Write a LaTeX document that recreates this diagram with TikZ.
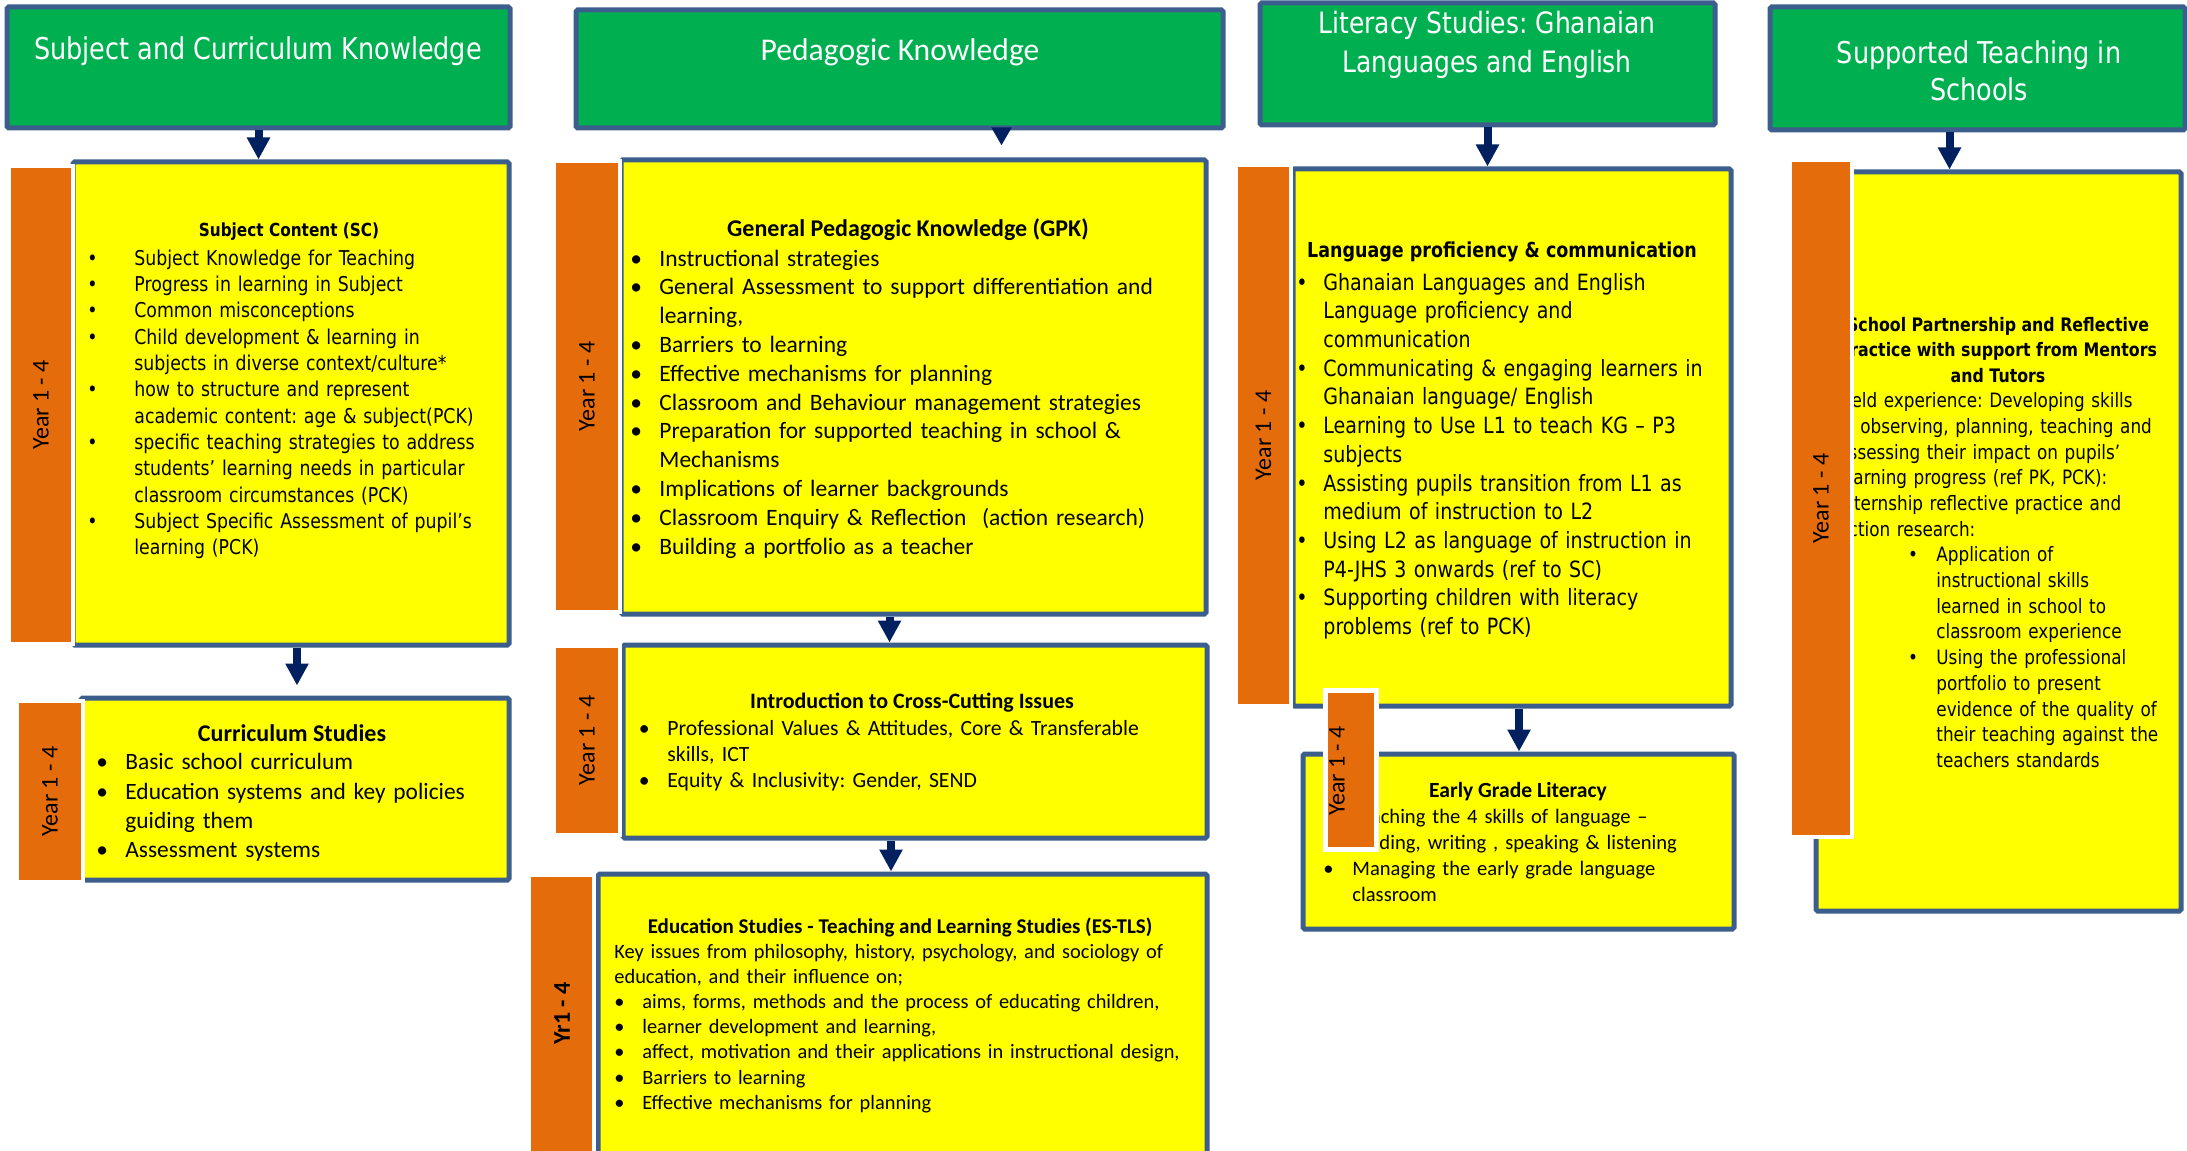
\documentclass[tikz,border=0pt]{standalone}
\usepackage{fontspec}
\setmainfont{Carlito}
\newfontfamily\tahfont[FakeStretch=0.85]{DejaVu Sans}
\usepackage{xcolor}
\usepackage{tikz}
\usetikzlibrary{positioning,fit,calc,arrows.meta}

\definecolor{hdgreen}{HTML}{00B050}
\definecolor{boxyellow}{HTML}{FFFF00}
\definecolor{yrorange}{HTML}{E46C0A}
\definecolor{edgeblue}{HTML}{3B5E8C}
\definecolor{arrownavy}{HTML}{002060}

\newlength\bulind
\newlength\txtind
\newcommand\bl{\par\noindent\hbox to\txtind{\hskip\bulind\relax\textbullet\hss}}
\newcommand\cl{\par\noindent\hskip\txtind\relax}
\newcommand\pl{\par\noindent}

\begin{document}
\frenchspacing
\begin{tikzpicture}[x=0.5pt, y=-0.5pt,
    header/.style={draw=edgeblue, line width=2.5pt, fill=hdgreen, inner sep=0pt, rounded corners=0.8pt},
    hdtext/.style={text=white, align=center, inner sep=0pt},
    subbox/.style={draw=edgeblue, line width=2.5pt, fill=boxyellow, inner sep=0pt, rounded corners=0.8pt},
    yearbar/.style={draw=white, line width=2pt, fill=yrorange, inner sep=0pt},
    yeartext/.style={rotate=90, inner sep=0pt, font=\fontsize{12}{14}\selectfont},
    boxtitle/.style={inner sep=0pt, align=center},
    bodytext/.style={anchor=north west, inner sep=0pt, align=left},
    navyarrow/.style={draw=arrownavy, line width=4pt, -{Triangle[width=11pt,length=11pt]}},
    navyhead/.style={draw=arrownavy, line width=4pt, -{Triangle[width=9.5pt,length=9pt]}}
]
    \useasboundingbox (0,0) rectangle (2187,1150);

    \node[header, fit={(7,7) (510,128)}] (hd1) {};
    \node[header, fit={(576,10) (1223,128)}] (hd2) {};
    \node[header, fit={(1260,3) (1715,125)}] (hd3) {};
    \node[header, fit={(1770,7) (2185,130)}] (hd4) {};

    \node[hdtext, font=\tahfont\fontsize{15}{19}\selectfont] (hd1txt) at (258,51) {Subject and Curriculum Knowledge};
    \node[hdtext, font=\fontsize{15.8}{19}\selectfont] (hd2txt) at (900,52) {Pedagogic Knowledge};
    \node[hdtext, font=\tahfont\fontsize{14.7}{19.5}\selectfont] (hd3txt) at (1487,44.5) {Literacy Studies: Ghanaian\\Languages and English};
    \node[hdtext, font=\tahfont\fontsize{15}{18.5}\selectfont] (hd4txt) at (1979,70.5) {Supported Teaching in\\Schools};

    \node[subbox, fit={(73,162) (509,645)}] (sc) {};
    \node[subbox, fit={(81,698) (509,880)}] (cs) {};
    \node[subbox, fit={(621,160) (1206,614)}] (gpk) {};
    \node[subbox, fit={(623,645) (1207,838)}] (cci) {};
    \node[subbox, fit={(598,874) (1207,1175)}] (es) {};
    \node[subbox, fit={(1293,169) (1731,706)}] (lpc) {};
    \node[subbox, fit={(1303,754) (1734,929)}] (egl) {};
    \node[subbox, fit={(1816,172) (2181,911)}] (stp) {};

    \node[boxtitle, font=\tahfont\bfseries\fontsize{9}{11}\selectfont] (sctitle) at (289,232) {Subject Content (SC)};
    \node[bodytext, text width=212pt, font=\tahfont\fontsize{10.2}{13.15}\selectfont] (sclist) at (87,238.6) {%
        \setlength\bulind{0pt}\setlength\txtind{23.5pt}%
        \bl Subject Knowledge for Teaching
        \bl Progress in learning in Subject
        \bl Common misconceptions
        \bl Child development \& learning in
        \cl subjects in diverse context/culture*
        \bl how to structure and represent
        \cl academic content: age \& subject(PCK)
        \bl specific teaching strategies to address
        \cl students’ learning needs in particular
        \cl classroom circumstances (PCK)
        \bl Subject Specific Assessment of pupil’s
        \cl learning (PCK)};

    \node[boxtitle, font=\bfseries\fontsize{12}{14.5}\selectfont] (cstitle) at (292,733) {Curriculum Studies};
    \node[bodytext, text width=200pt, font=\fontsize{11.7}{14.65}\selectfont] (cslist) at (96,740) {%
        \setlength\bulind{0pt}\setlength\txtind{14.5pt}%
        \bl Basic school curriculum
        \bl Education systems and key policies
        \cl guiding them
        \bl Assessment systems};

    \node[boxtitle, font=\bfseries\fontsize{12}{14.4}\selectfont] (gpktitle) at (908,230) {General Pedagogic Knowledge (GPK)};
    \node[bodytext, text width=285pt, font=\fontsize{11.75}{14.4}\selectfont] (gpklist) at (630,237) {%
        \setlength\bulind{0pt}\setlength\txtind{14.5pt}%
        \bl Instructional strategies
        \bl General Assessment to support differentiation and
        \cl learning,
        \bl Barriers to learning
        \bl Effective mechanisms for planning
        \bl Classroom and Behaviour management strategies
        \bl Preparation for supported teaching in school \&
        \cl Mechanisms
        \bl Implications of learner backgrounds
        \bl Classroom Enquiry \& Reflection\ \ (action research)
        \bl Building a portfolio as a teacher};

    \node[boxtitle, font=\bfseries\fontsize{11}{13}\selectfont] (ccititle) at (912,703) {Introduction to Cross-Cutting Issues};
    \node[bodytext, text width=285pt, font=\fontsize{10.85}{13}\selectfont] (ccilist) at (638.5,709) {%
        \setlength\bulind{0pt}\setlength\txtind{14.25pt}%
        \bl Professional Values \& Attitudes, Core \& Transferable
        \cl skills, ICT
        \bl Equity \& Inclusivity: Gender, SEND};

    \node[boxtitle, font=\bfseries\fontsize{10.5}{12.6}\selectfont] (estitle) at (900,927) {Education Studies - Teaching and Learning Studies (ES-TLS)};
    \node[bodytext, text width=300pt, font=\fontsize{10.2}{12.6}\selectfont] (eslist) at (614,932.5) {%
        \setlength\bulind{0pt}\setlength\txtind{14pt}%
        \pl Key issues from philosophy, history, psychology, and sociology of
        \pl education, and their influence on;
        \bl aims, forms, methods and the process of educating children,
        \bl learner development and learning,
        \bl affect, motivation and their applications in instructional design,
        \bl Barriers to learning
        \bl Effective mechanisms for planning};

    \node[boxtitle, font=\tahfont\bfseries\fontsize{10.3}{12}\selectfont] (lpctitle) at (1502,252) {Language proficiency \& communication};
    \node[bodytext, text width=215pt, font=\tahfont\fontsize{11.2}{14.35}\selectfont] (lpclist) at (1294,261) {%
        \setlength\bulind{1pt}\setlength\txtind{14.5pt}%
        \bl Ghanaian Languages and English
        \cl Language proficiency and
        \cl communication
        \bl Communicating \& engaging learners in
        \cl Ghanaian language/ English
        \bl Learning to Use L1 to teach KG – P3
        \cl subjects
        \bl Assisting pupils transition from L1 as
        \cl medium of instruction to L2
        \bl Using L2 as language of instruction in
        \cl P4-JHS 3 onwards (ref to SC)
        \bl Supporting children with literacy
        \cl problems (ref to PCK)};

    \node[boxtitle, font=\bfseries\fontsize{10.8}{12.65}\selectfont] (egltitle) at (1518,792) {Early Grade Literacy};
    \node[bodytext, text width=210pt, font=\fontsize{10.3}{13}\selectfont] (egllist) at (1323,797.5) {%
        \setlength\bulind{0pt}\setlength\txtind{14.5pt}%
        \bl Teaching the 4 skills of language –
        \cl reading, writing , speaking \& listening
        \bl Managing the early grade language
        \cl classroom};

    \node[boxtitle, font=\tahfont\bfseries\fontsize{9.3}{12.85}\selectfont] (stptitle) at (1998,350) {School Partnership and Reflective\\practice with support from Mentors\\and Tutors};
    \node[bodytext, text width=172pt, font=\tahfont\fontsize{9.9}{12.85}\selectfont] (stplist) at (1838,381.5) {%
        \setlength\bulind{34.8pt}\setlength\txtind{49pt}%
        \pl Field experience: Developing skills
        \pl in observing, planning, teaching and
        \pl assessing their impact on pupils’
        \pl learning progress (ref PK, PCK):
        \pl Internship reflective practice and
        \pl action research:
        \bl Application of
        \cl instructional skills
        \cl learned in school to
        \cl classroom experience
        \bl Using the professional
        \cl portfolio to present
        \cl evidence of the quality of
        \cl their teaching against the
        \cl teachers standards};

    \node[yearbar, fit={(9,166) (73,644)}] (yr1) {};
    \node[yearbar, fit={(17,701) (83,882)}] (yr2) {};
    \node[yearbar, fit={(554,161) (620,612)}] (yr3) {};
    \node[yearbar, fit={(554,646) (620,835)}] (yr4) {};
    \node[yearbar, fit={(529,875) (594,1170)}] (yr5) {};
    \node[yearbar, fit={(1236,165) (1291,706)}] (yr6) {};
    \node[yearbar, line width=2.5pt, fit={(1325.5,690.5) (1376.5,849.5)}] (yr7) {};
    \node[yearbar, fit={(1790,160) (1852,837)}] (yr8) {};

    \node[yeartext] (yr1txt) at (yr1) {Year 1 - 4};
    \node[yeartext] (yr2txt) at (yr2) {Year 1 - 4};
    \node[yeartext] (yr3txt) at (yr3) {Year 1 - 4};
    \node[yeartext] (yr4txt) at (yr4) {Year 1 - 4};
    \node[yeartext, font=\bfseries\fontsize{12}{14}\selectfont] (yr5txt) at (562,1013.5) {Yr1 - 4};
    \node[yeartext] (yr6txt) at (yr6) {Year 1 - 4};
    \node[yeartext] (yr7txt) at (1337,771) {Year 1 - 4};
    \node[yeartext] (yr8txt) at (yr8) {Year 1 - 4};

    \draw[navyarrow] (hd1.south) -- (hd1.south |- sc.north);
    \draw[navyarrow] ([xshift=3pt]sc.south) -- ([xshift=3pt,yshift=5pt]sc.south |- cs.north);
    \draw[navyhead] ([xshift=51pt]hd2.south) -- ([xshift=51pt,yshift=6pt]hd2.south |- gpk.north);
    \draw[navyarrow] ([xshift=-12pt]gpk.south) -- ([xshift=-12pt]gpk.south |- cci.north);
    \draw[navyarrow] ([xshift=-12pt]cci.south) -- ([xshift=-12pt]cci.south |- es.north);
    \draw[navyarrow] (hd3.south) -- (hd3.south |- lpc.north);
    \draw[navyarrow] ([xshift=3.5pt]lpc.south) -- ([xshift=3.5pt]lpc.south |- egl.north);
    \draw[navyarrow] ([xshift=-14pt]hd4.south) -- ([xshift=-14pt]hd4.south |- stp.north);
\end{tikzpicture}
\end{document}
